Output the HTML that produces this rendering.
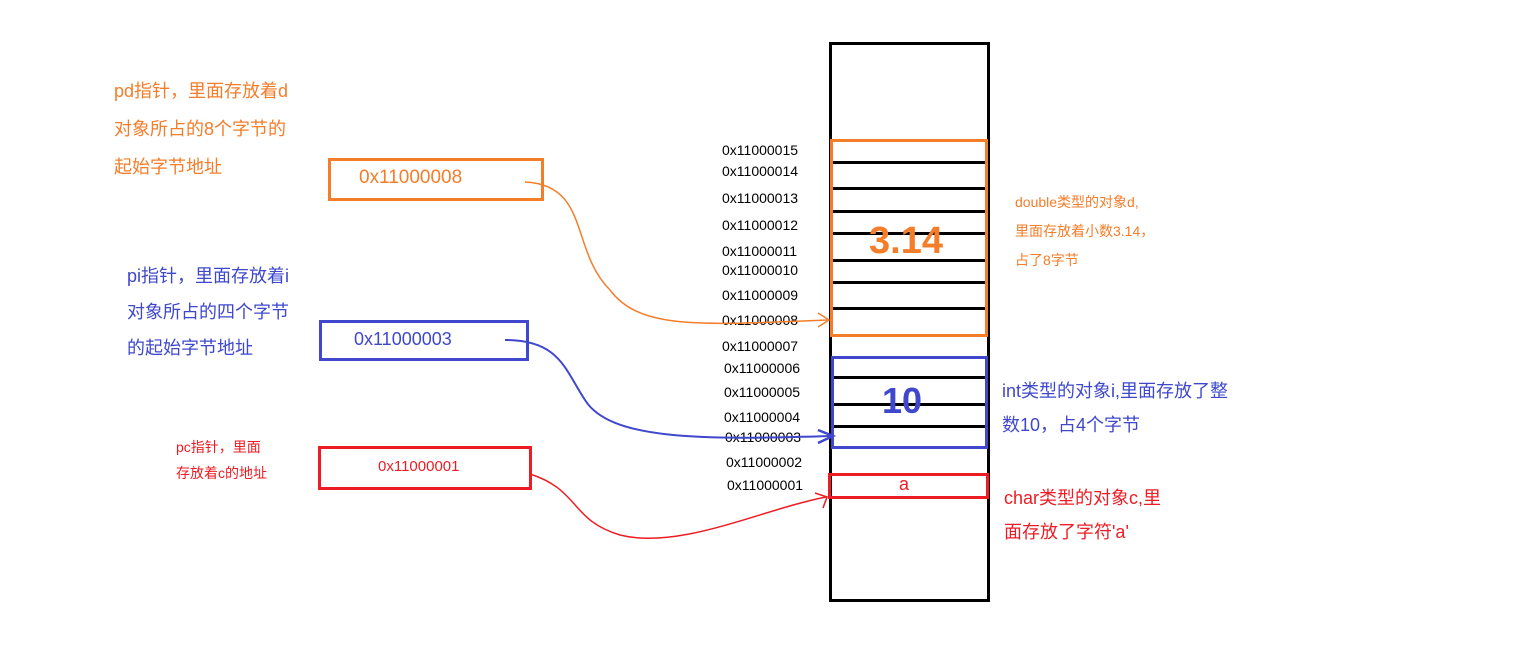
<!DOCTYPE html>
<html><head><meta charset="utf-8"><style>
body{margin:0;width:1536px;height:648px;background:#fff;position:relative;overflow:hidden;font-family:"Liberation Sans","Noto Sans CJK SC",sans-serif}
.t{position:absolute;white-space:nowrap}
.addr{position:absolute;font-size:14px;color:#000;left:722px}
.hl{position:absolute;left:832px;width:153px;height:3px;background:#000}
</style></head><body>
<div style="position:absolute;left:829px;top:42px;width:155px;height:554px;border:3px solid #000"></div>
<div class="hl" style="top:161px"></div><div class="hl" style="top:187px"></div><div class="hl" style="top:210px"></div><div class="hl" style="top:232px"></div><div class="hl" style="top:259px"></div><div class="hl" style="top:281px"></div><div class="hl" style="top:307px"></div>
<div class="hl" style="top:335px;height:2px"></div>
<div class="hl" style="top:376px"></div><div class="hl" style="top:403px"></div><div class="hl" style="top:425px"></div>
<div class="hl" style="top:446px;height:2px"></div>
<div style="position:absolute;left:830px;top:139px;width:152px;height:192px;border:3px solid #f47d2a"></div>
<div style="position:absolute;left:831px;top:356px;width:151px;height:87px;border:3px solid #3f48cc"></div>
<div style="position:absolute;left:828px;top:473px;width:155px;height:20px;border:3px solid #ed1c24"></div>
<div class="t" style="left:869px;top:220px;font-size:38px;font-weight:bold;color:#f47d2a">3.14</div>
<div class="t" style="left:882px;top:380px;font-size:36px;font-weight:bold;color:#3f48cc">10</div>
<div class="t" style="left:899px;top:474px;font-size:18px;color:#ed1c24">a</div>
<div class="addr" style="top:142px">0x11000015</div>
<div class="addr" style="top:163px">0x11000014</div>
<div class="addr" style="top:190px">0x11000013</div>
<div class="addr" style="top:217px">0x11000012</div>
<div class="addr" style="top:243px">0x11000011</div>
<div class="addr" style="top:262px">0x11000010</div>
<div class="addr" style="top:287px">0x11000009</div>
<div class="addr" style="top:312px">0x11000008</div>
<div class="addr" style="top:338px">0x11000007</div>
<div class="addr" style="top:360px;left:724px">0x11000006</div>
<div class="addr" style="top:384px;left:724px">0x11000005</div>
<div class="addr" style="top:409px;left:724px">0x11000004</div>
<div class="addr" style="top:429px;left:725px">0x11000003</div>
<div class="addr" style="top:454px;left:726px">0x11000002</div>
<div class="addr" style="top:477px;left:727px">0x11000001</div>

<div class="t" style="left:114px;top:72px;font-size:18px;line-height:38px;color:#f47d2a">pd指针，里面存放着d<br>对象所占的8个字节的<br>起始字节地址</div>
<div style="position:absolute;left:328px;top:158px;width:210px;height:37px;border:3px solid #f47d2a"></div>
<div class="t" style="left:359px;top:167px;font-size:19px;color:#f47d2a">0x11000008</div>

<div class="t" style="left:127px;top:258px;font-size:18px;line-height:36px;color:#3f48cc">pi指针，里面存放着i<br>对象所占的四个字节<br>的起始字节地址</div>
<div style="position:absolute;left:319px;top:320px;width:204px;height:35px;border:3px solid #3f48cc"></div>
<div class="t" style="left:354px;top:329px;font-size:18px;color:#3f48cc">0x11000003</div>

<div class="t" style="left:176px;top:434px;font-size:14px;line-height:26px;color:#ed1c24">pc指针，里面<br>存放着c的地址</div>
<div style="position:absolute;left:318px;top:446px;width:208px;height:38px;border:3px solid #ed1c24"></div>
<div class="t" style="left:378px;top:458px;font-size:15px;color:#ed1c24">0x11000001</div>

<div class="t" style="left:1015px;top:188px;font-size:14px;line-height:29px;color:#f47d2a">double类型的对象d,<br>里面存放着小数3.14，<br>占了8字节</div>
<div class="t" style="left:1002px;top:374px;font-size:18px;line-height:34px;color:#3f48cc">int类型的对象i,里面存放了整<br>数10，占4个字节</div>
<div class="t" style="left:1004px;top:481px;font-size:18px;line-height:34px;color:#ed1c24">char类型的对象c,里<br>面存放了字符'a'</div>

<svg width="1536" height="648" style="position:absolute;left:0;top:0">
<path d="M525 182 C590 185,570 250,610 290 C640 330,700 325,828 320" fill="none" stroke="#f47d2a" stroke-width="1.5"/>
<path d="M818 313 L829 320 L818 327" fill="none" stroke="#f47d2a" stroke-width="1.5"/>
<path d="M505 340 C560 340,565 370,585 400 C610 440,700 440,832 436" fill="none" stroke="#3f48cc" stroke-width="2"/>
<path d="M818 430 L833 436 L818 443" fill="none" stroke="#3f48cc" stroke-width="2.5"/>
<path d="M530 474 C580 490,570 520,620 535 C680 550,760 510,826 497" fill="none" stroke="#ed1c24" stroke-width="1.5"/>
<path d="M815 493 L827 497 L823 508" fill="none" stroke="#ed1c24" stroke-width="1.5"/>
</svg>
</body></html>
